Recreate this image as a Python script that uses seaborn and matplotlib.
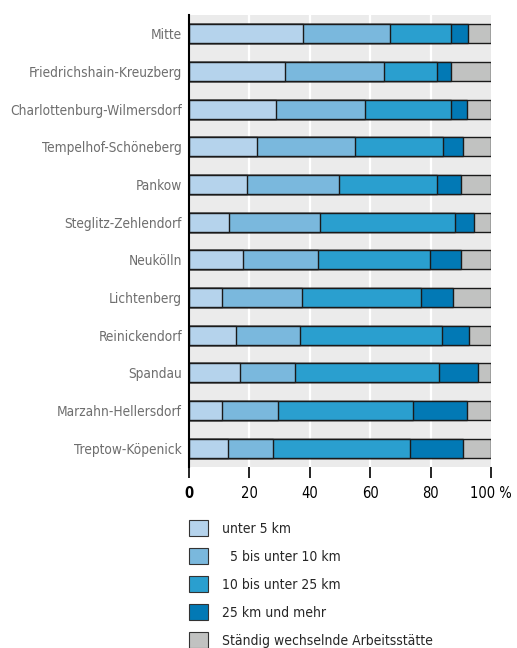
import matplotlib
matplotlib.use("Agg")
import matplotlib.pyplot as plt
import seaborn as sns
import pandas as pd
import numpy as np
from matplotlib.patches import Patch

districts = ["Mitte", "Friedrichshain-Kreuzberg", "Charlottenburg-Wilmersdorf",
             "Tempelhof-Schöneberg", "Pankow", "Steglitz-Zehlendorf", "Neukölln",
             "Lichtenberg", "Reinickendorf", "Spandau", "Marzahn-Hellersdorf",
             "Treptow-Köpenick"]
unter5 = [37.8, 31.9, 28.7, 22.4, 19.3, 13.2, 17.9, 10.8, 15.5, 17.0, 11.0, 13.0]
b5_10 = [28.9, 32.6, 29.5, 32.5, 30.4, 30.1, 24.9, 26.5, 21.2, 18.0, 18.4, 14.7]
b10_25 = [20.1, 17.7, 28.7, 29.3, 32.3, 44.7, 36.9, 39.4, 47.0, 47.7, 44.9, 45.5]
ab25 = [5.7, 4.4, 5.3, 6.5, 8.0, 6.3, 10.3, 10.8, 8.9, 12.9, 17.7, 17.4]
wechselnd = [7.5, 13.4, 7.8, 9.3, 10.0, 5.7, 10.0, 12.5, 7.4, 4.4, 8.0, 9.4]

series_names = ["unter 5 km", "  5 bis unter 10 km", "10 bis unter 25 km",
                "25 km und mehr", "Ständig wechselnde Arbeitsstätte"]
colors = ["#b5d3ec", "#7ab8dd", "#2a9fcf", "#0279b5", "#c1c2c1"]
x_ticks = [0, 20, 40, 60, 80, 100]
x_ticklabels = ["0", "20", "40", "60", "80", "100 %"]

sns.set_theme(style="white")
plt.rcParams["font.family"] = ["DejaVu Sans"]
plt.rcParams["font.stretch"] = "condensed"

df = pd.DataFrame({"district": districts})
series = [unter5, b5_10, b10_25, ab25, wechselnd]
cum = np.cumsum(np.array(series), axis=0)

fig = plt.figure(figsize=(5.17, 6.48), dpi=100)
ax = fig.add_axes([189 / 517, 1 - 467 / 648, 302 / 517, 452 / 648])
ax.set_facecolor("#ebebeb")

for i in range(len(series) - 1, -1, -1):
    d = df.copy()
    d["val"] = cum[i]
    sns.barplot(data=d, x="val", y="district", color=colors[i], orient="h",
                width=0.5, edgecolor="#1a1a1a", linewidth=1.0, saturation=1,
                ax=ax, zorder=3)

for gx in [20, 40, 60, 80]:
    ax.axvline(gx, color="white", lw=1.6, zorder=1)

ax.set_xlim(0, 100)
ax.set_ylim(11.5, -0.5)
ax.set_xlabel("")
ax.set_ylabel("")
ax.set_xticks(x_ticks)
ax.set_xticklabels(x_ticklabels, fontsize=10.5, color="black", fontstretch="condensed")
ax.get_xticklabels()[0].set_fontweight("bold")
ax.tick_params(axis="x", direction="out", length=8, width=1.2, color="black", pad=5.5, bottom=True)
ax.tick_params(axis="y", length=0, pad=5, labelsize=9.8, labelcolor="#6e6e6e")
for t in ax.get_yticklabels():
    t.set_fontstretch("condensed")

for s in ["top", "right", "bottom"]:
    ax.spines[s].set_visible(False)
ax.spines["left"].set_color("black")
ax.spines["left"].set_linewidth(1.5)
ax.spines["left"].set_zorder(5)

handles = [Patch(facecolor=c, edgecolor="#333333", linewidth=0.8) for c in colors]
leg = fig.legend(handles, series_names, loc="upper left", bbox_to_anchor=(189 / 517, 1 - 520 / 648),
                 frameon=False, fontsize=10, handlelength=1.4, handleheight=1.4,
                 labelspacing=0.86, handletextpad=0.95, borderaxespad=0, borderpad=0)
for t in leg.get_texts():
    t.set_fontstretch("condensed")

fig.savefig("out.png", dpi=100)
